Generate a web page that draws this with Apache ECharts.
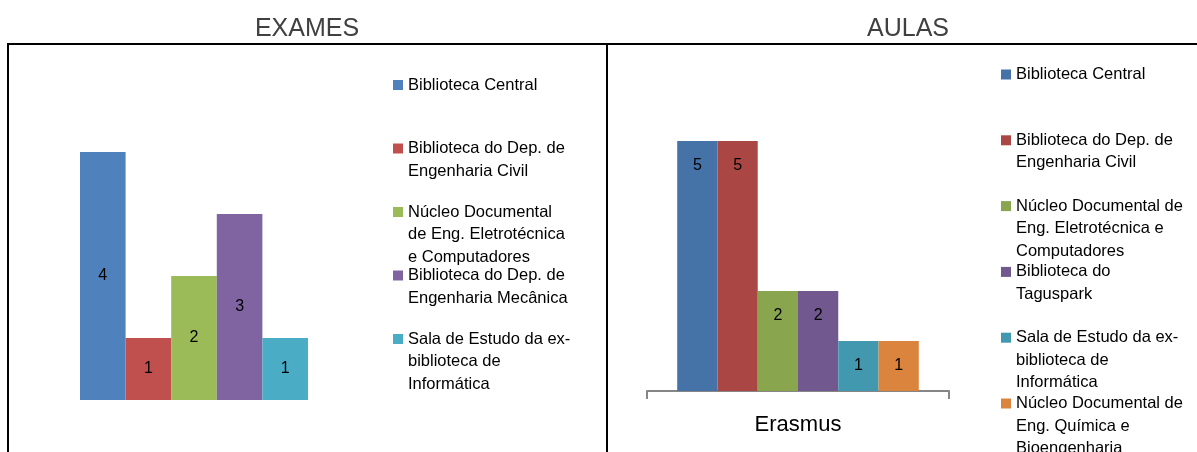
<!DOCTYPE html>
<html>
<head>
<meta charset="utf-8">
<script src="https://cdn.jsdelivr.net/npm/echarts@6/dist/echarts.min.js"></script>
<style>
  html, body { margin: 0; padding: 0; background: #fff; }
  #main { width: 1197px; height: 452px; }
</style>
</head>
<body>
<div id="main"></div>
<script>
// EXAMES
var examesCategories = ['Exames'];
var examesNames = [
  'Biblioteca Central',
  'Biblioteca do Dep. de Engenharia Civil',
  'Núcleo Documental de Eng. Eletrotécnica e Computadores',
  'Biblioteca do Dep. de Engenharia Mecânica',
  'Sala de Estudo da ex-biblioteca de Informática'
];
var examesLegend = [
  'Biblioteca Central',
  'Biblioteca do Dep. de\nEngenharia Civil',
  'Núcleo Documental\nde Eng. Eletrotécnica\ne Computadores',
  'Biblioteca do Dep. de\nEngenharia Mecânica',
  'Sala de Estudo da ex-\nbiblioteca de\nInformática'
];
var examesValues = [4, 1, 2, 3, 1];
var examesColors = ['#4F81BD', '#C0504D', '#9BBB59', '#8064A2', '#4BACC6'];

// AULAS
var aulasCategories = ['Erasmus'];
var aulasNames = [
  'Biblioteca Central',
  'Biblioteca do Dep. de Engenharia Civil',
  'Núcleo Documental de Eng. Eletrotécnica e Computadores',
  'Biblioteca do Taguspark',
  'Sala de Estudo da ex-biblioteca de Informática',
  'Núcleo Documental de Eng. Química e Bioengenharia'
];
var aulasLegend = [
  'Biblioteca Central',
  'Biblioteca do Dep. de\nEngenharia Civil',
  'Núcleo Documental de\nEng. Eletrotécnica e\nComputadores',
  'Biblioteca do\nTaguspark',
  'Sala de Estudo da ex-\nbiblioteca de\nInformática',
  'Núcleo Documental de\nEng. Química e\nBioengenharia'
];
var aulasValues = [5, 5, 2, 2, 1, 1];
var aulasColors = ['#4572A7', '#AA4643', '#89A54E', '#71588F', '#4198AF', '#DB843D'];

var font = 'Liberation Sans, Arial, sans-serif';

// one small legend per entry so every entry sits in its own slot
function makeLegends(names, labels, colors, left, firstY, step, lh) {
  return names.map(function (name, i) {
    var lines = labels[i].split('\n').length;
    var boxH = lh * (2 * lines - 1);
    return {
      data: [{ name: name, icon: 'rect', itemStyle: { color: colors[i] } }],
      orient: 'vertical',
      left: left,
      top: firstY + step * i - boxH / 2,
      padding: 0,
      itemWidth: 10,
      itemHeight: 10,
      selectedMode: false,
      textStyle: { fontFamily: font, fontSize: 16.5, lineHeight: lh, color: '#000' },
      formatter: function () {
        // blank lines first so the first text line lines up with the marker
        return new Array(lines).join('\n') + labels[i];
      }
    };
  });
}

var series = [];
examesNames.forEach(function (name, i) {
  series.push({
    name: name,
    type: 'bar',
    xAxisIndex: 0,
    yAxisIndex: 0,
    barGap: '0%',
    barCategoryGap: '0%',
    itemStyle: { color: examesColors[i] },
    label: { show: true, position: 'inside', color: '#000', fontFamily: font, fontSize: 16 },
    data: [examesValues[i]]
  });
});
aulasNames.forEach(function (name, i) {
  series.push({
    name: name,
    type: 'bar',
    xAxisIndex: 1,
    yAxisIndex: 1,
    barGap: '0%',
    barCategoryGap: '20%',
    itemStyle: { color: aulasColors[i] },
    label: { show: true, position: 'insideTop', distance: 17, color: '#000', fontFamily: font, fontSize: 16 },
    data: [aulasValues[i]]
  });
});

var myChart = echarts.init(document.getElementById('main'));
var option = {
  backgroundColor: '#fff',
  animation: false,
  legend: makeLegends(examesNames, examesLegend, examesColors, 393, 85, 63.5, 22.5)
    .concat(makeLegends(aulasNames, aulasLegend, aulasColors, 1001, 74.5, 65.8, 22.6)),
  grid: [
    { left: 80, width: 228, top: 152, height: 248 },
    { left: 647, width: 302, top: 141, height: 250 }
  ],
  xAxis: [
    { type: 'category', gridIndex: 0, data: examesCategories, show: false },
    {
      type: 'category', gridIndex: 1, data: aulasCategories,
      axisLine: { lineStyle: { color: '#868686', width: 2 } },
      axisTick: { show: true, length: 8, lineStyle: { color: '#868686', width: 2 } },
      axisLabel: { color: '#000', fontFamily: font, fontSize: 22, margin: 23 }
    }
  ],
  yAxis: [
    { type: 'value', gridIndex: 0, min: 0, max: 4, show: false },
    { type: 'value', gridIndex: 1, min: 0, max: 5, show: false }
  ],
  graphic: [
    { type: 'text', x: 307, y: 29, style: { text: 'EXAMES', textAlign: 'center', textVerticalAlign: 'middle', font: '25px ' + font, fill: '#404040' } },
    { type: 'text', x: 908, y: 29, style: { text: 'AULAS', textAlign: 'center', textVerticalAlign: 'middle', font: '25px ' + font, fill: '#404040' } },
    { type: 'line', shape: { x1: 7, y1: 44, x2: 1197, y2: 44 }, style: { stroke: '#000', lineWidth: 2 } },
    { type: 'line', shape: { x1: 8, y1: 43, x2: 8, y2: 452 }, style: { stroke: '#000', lineWidth: 2 } },
    { type: 'line', shape: { x1: 607, y1: 43, x2: 607, y2: 452 }, style: { stroke: '#000', lineWidth: 2 } }
  ],
  series: series
};
myChart.setOption(option);
</script>
</body>
</html>
